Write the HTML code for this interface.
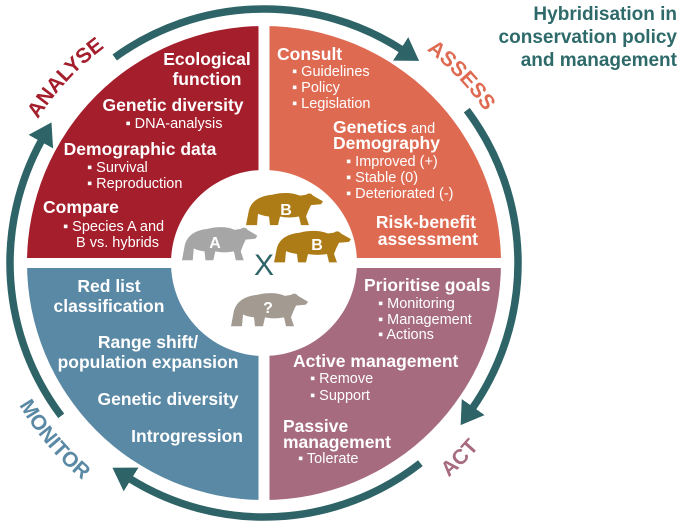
<!DOCTYPE html>
<html><head><meta charset="utf-8"><style>
html,body{margin:0;padding:0;background:#fff;}
svg{display:block;font-family:"Liberation Sans",Arial,sans-serif;}
.h{font-weight:bold;font-size:17.5px;fill:#fff;}
.s{font-size:14.5px;fill:#fff;}
</style></head><body>
<svg width="680" height="526" viewBox="0 0 680 526" xmlns="http://www.w3.org/2000/svg">
<defs>
<marker id="ah" markerUnits="userSpaceOnUse" markerWidth="26" markerHeight="28" refX="2" refY="14" orient="auto">
<path d="M0,0 L22,14 L0,28 Z" fill="#2e6467"/>
</marker>
<path id="tp" d="M-268,0 A268,268 0 1 1 268,0 A268,268 0 1 1 -268,0"/>
<path id="bp" d="M-283,0 A283,283 0 1 0 283,0 A283,283 0 1 0 -283,0"/>
</defs>
<g transform="translate(264,263)">
<path d="M0,0 L-237,0 A237,237 0 0 1 0,-237 Z" fill="#a41e2b"/>
<path d="M0,0 L0,-237 A237,237 0 0 1 237,0 Z" fill="#df6a52"/>
<path d="M0,0 L237,0 A237,237 0 0 1 0,237 Z" fill="#a66b7e"/>
<path d="M0,0 L0,237 A237,237 0 0 1 -237,0 Z" fill="#5a89a5"/>
<rect x="-5.5" y="-240" width="11" height="480" fill="#fff"/>
<rect x="-240" y="-5" width="480" height="10" fill="#fff"/>
<circle r="93" fill="#fff"/>
<g fill="none" stroke="#2e6467" stroke-width="7.5" marker-end="url(#ah)">
<path d="M-202.8,152.9 A254,254 0 0 1 -222.2,-123.1"/>
<path d="M-149.3,-205.5 A254,254 0 0 1 138.3,-213.0"/>
<path d="M202.8,-152.9 A254,254 0 0 1 208.1,145.7"/>
<path d="M156.4,200.2 A254,254 0 0 1 -134.6,215.4"/>
</g>
<g font-weight="bold" font-size="21" text-anchor="middle">
<text fill="#a41e2b"><textPath href="#tp" startOffset="201">ANALYSE</textPath></text>
<text fill="#df6a52"><textPath href="#tp" startOffset="638">ASSESS</textPath></text>
<text fill="#5a89a5"><textPath href="#bp" startOffset="198">MONITOR</textPath></text>
<text fill="#a66b7e"><textPath href="#bp" startOffset="667">ACT</textPath></text>
</g>
</g>
<defs>
<path id="bear" d="M2,38 L5,22 Q9,8 28,6 Q44,2 56,7 L62,6 Q66,3 69,7 L79,13 L77,16 L67,17 Q64,23 62,29 L65,38 L57,38 L55,29 Q45,31 36,29 L34,38 L26,38 L25,29 Q18,28 14,26 L13,38 L5,38 Z"/>
</defs>
<use href="#bear" transform="translate(244,189) scale(1,0.95)" fill="#ae7c17"/>
<use href="#bear" transform="translate(180,223) scale(0.98,0.98)" fill="#a6a6a6"/>
<use href="#bear" transform="translate(272,227) scale(1,0.93)" fill="#ae7c17"/>
<use href="#bear" transform="translate(229,289) scale(1,0.98)" fill="#a39b92"/>
<g font-weight="bold" font-size="16" fill="#fff" text-anchor="middle">
<text x="286" y="215">B</text>
<text x="215" y="248">A</text>
<text x="317" y="250">B</text>
<text x="268" y="313">?</text>
</g>
<text x="264" y="275" text-anchor="middle" font-size="30" fill="#2e6467">X</text>
<g font-weight="bold" font-size="19" fill="#2e6a6a" text-anchor="end">
<text x="677" y="20">Hybridisation in</text>
<text x="677" y="43">conservation policy</text>
<text x="677" y="66">and management</text>
</g>
<text class="h" x="207" y="65" text-anchor="middle">Ecological</text>
<text class="h" x="207" y="85" text-anchor="middle">function</text>
<text class="h" x="173" y="111" text-anchor="middle">Genetic diversity</text>
<text class="s" x="174" y="128" text-anchor="middle">▪ DNA-analysis</text>
<text class="h" x="140" y="155" text-anchor="middle">Demographic data</text>
<text class="s" x="87" y="172">▪ Survival</text>
<text class="s" x="87" y="188">▪ Reproduction</text>
<text class="h" x="43" y="213">Compare</text>
<text class="s" x="63" y="231">▪ Species A and</text>
<text class="s" x="76" y="247">B vs. hybrids</text>
<text class="h" x="277" y="60">Consult</text>
<text class="s" x="292" y="76">▪ Guidelines</text>
<text class="s" x="292" y="92">▪ Policy</text>
<text class="s" x="292" y="108">▪ Legislation</text>
<text x="333" y="133" fill="#fff"><tspan class="h">Genetics</tspan><tspan class="s" font-size="15.5"> and</tspan></text>
<text class="h" x="333" y="149">Demography</text>
<text class="s" x="346" y="166">▪ Improved (+)</text>
<text class="s" x="346" y="182">▪ Stable (0)</text>
<text class="s" x="346" y="198">▪ Deteriorated (-)</text>
<text class="h" x="476" y="228" text-anchor="end">Risk-benefit</text>
<text class="h" x="478" y="245" text-anchor="end">assessment</text>
<text class="h" x="109" y="292" text-anchor="middle">Red list</text>
<text class="h" x="109" y="312" text-anchor="middle">classification</text>
<text class="h" x="148" y="348" text-anchor="middle">Range shift/</text>
<text class="h" x="148" y="368" text-anchor="middle">population expansion</text>
<text class="h" x="168" y="405" text-anchor="middle">Genetic diversity</text>
<text class="h" x="243" y="442" text-anchor="end">Introgression</text>
<text class="h" x="364" y="291">Prioritise goals</text>
<text class="s" x="378" y="308">▪ Monitoring</text>
<text class="s" x="378" y="324">▪ Management</text>
<text class="s" x="378" y="339">▪ Actions</text>
<text class="h" x="293" y="367">Active management</text>
<text class="s" x="310" y="383">▪ Remove</text>
<text class="s" x="310" y="400">▪ Support</text>
<text class="h" x="283" y="432">Passive</text>
<text class="h" x="283" y="448">management</text>
<text class="s" x="298" y="463">▪ Tolerate</text>
</svg>
</body></html>
